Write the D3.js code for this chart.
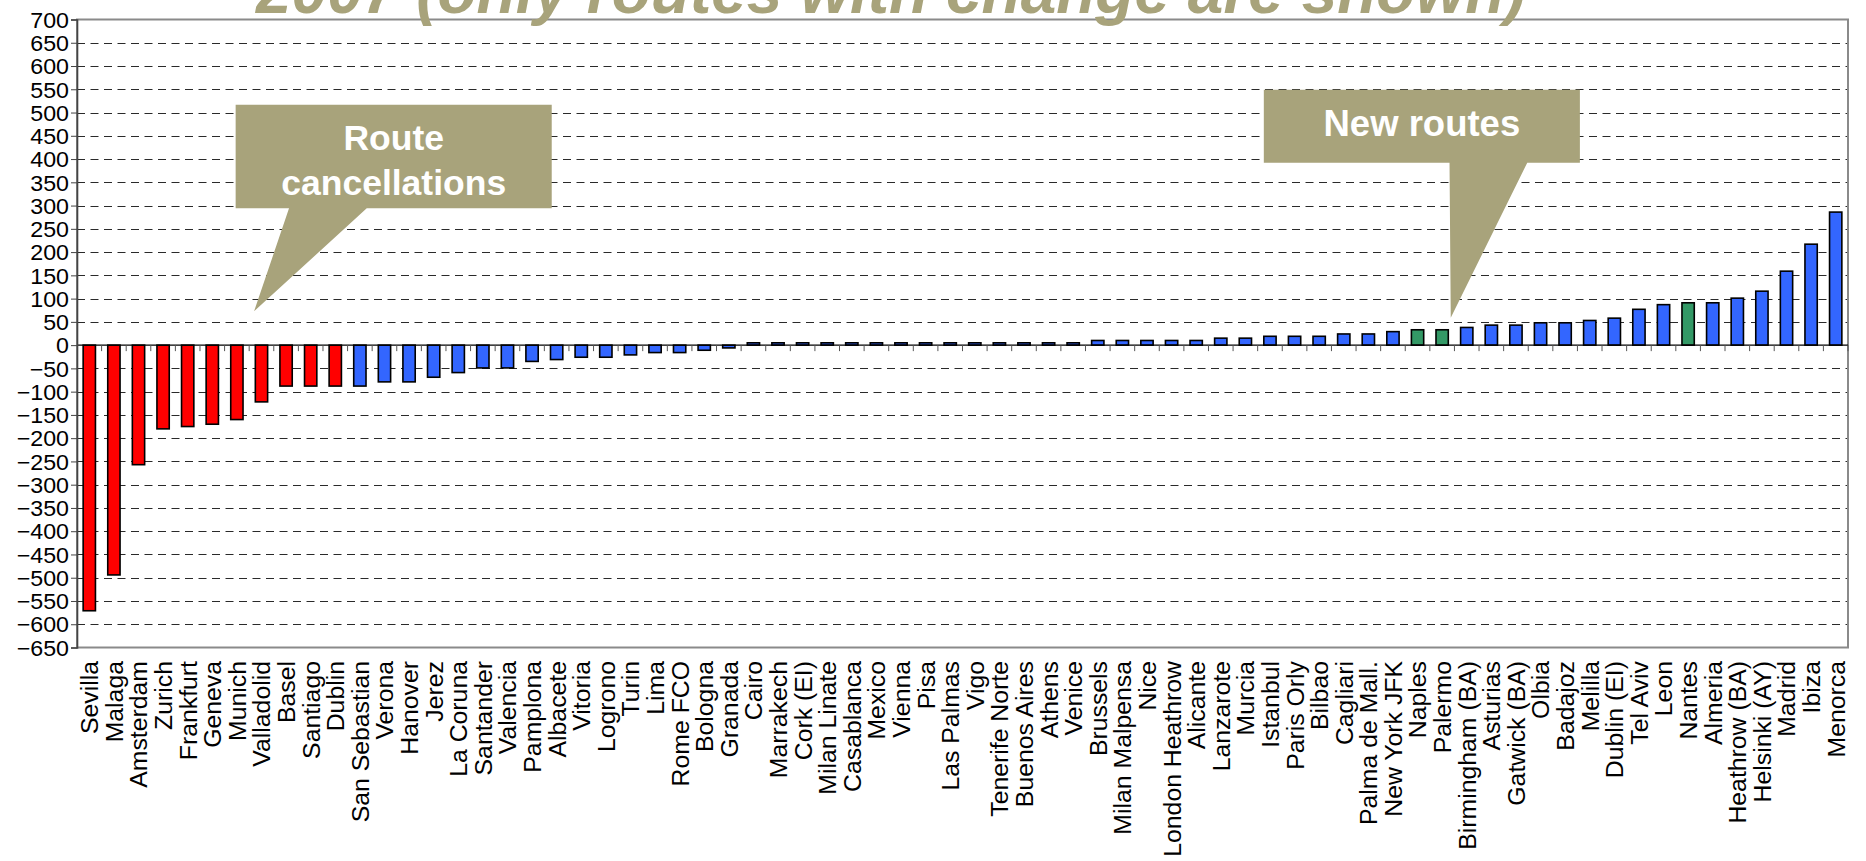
<!DOCTYPE html>
<html>
<head>
<meta charset="utf-8">
<script src="https://cdn.jsdelivr.net/npm/d3@7"></script>
<style>
  html, body { margin: 0; padding: 0; background: #ffffff; }
  svg { display: block; }
  text { font-family: "Liberation Sans", Arial, sans-serif; }
</style>
</head>
<body>
<svg id="chart" width="1866" height="861"></svg>
<script>
// ---------------- DATA ----------------
const categories = [
  "Sevilla","Malaga","Amsterdam","Zurich","Frankfurt","Geneva","Munich","Valladolid",
  "Basel","Santiago","Dublin","San Sebastian","Verona","Hanover","Jerez","La Coruna",
  "Santander","Valencia","Pamplona","Albacete","Vitoria","Logrono","Turin","Lima",
  "Rome FCO","Bologna","Granada","Cairo","Marrakech","Cork (EI)","Milan Linate","Casablanca",
  "Mexico","Vienna","Pisa","Las Palmas","Vigo","Tenerife Norte","Buenos Aires","Athens",
  "Venice","Brussels","Milan Malpensa","Nice","London Heathrow","Alicante","Lanzarote","Murcia",
  "Istanbul","Paris Orly","Bilbao","Cagliari","Palma de Mall.","New York JFK","Naples","Palermo",
  "Birmingham (BA)","Asturias","Gatwick (BA)","Olbia","Badajoz","Melilla","Dublin (EI)","Tel Aviv",
  "Leon","Nantes","Almeria","Heathrow (BA)","Helsinki (AY)","Madrid","Ibiza","Menorca"
];
const values = [
  -571,-494,-257,-180,-175,-170,-160,-122,
  -88,-88,-88,-88,-79,-79,-69,-59,
  -49,-49,-35,-31,-26,-26,-21,-16,
  -16,-11,-6,5,5,5,5,5,
  5,5,5,5,5,5,5,5,
  5,10,10,10,10,10,15,15,
  19,19,19,24,24,29,33,33,
  38,43,43,48,48,53,58,77,
  87,91,91,101,116,159,217,286
];
const cancelledRoutes = ["Sevilla","Malaga","Amsterdam","Zurich","Frankfurt","Geneva","Munich","Valladolid","Basel","Santiago","Dublin"];
const greenRoutes = ["Naples","Palermo","Nantes"];
const yTicks = d3.range(-650, 701, 50);
const titleText = "2007 (only routes with change are shown)";
const calloutLeftText = ["Route", "cancellations"];
const calloutRightText = ["New routes"];

// ---------------- LAYOUT / STYLE ----------------
const W = 1866, H = 861;
const plot = { left: 77, right: 1848, top: 19.5, bottom: 647.5 };
const colors = { cancel: "#ff0000", normal: "#3366ff", green: "#339966", olive: "#a8a37b" };

const svg = d3.select("#chart");

const x = d3.scaleBand().domain(categories).range([plot.left, plot.right])
  .paddingInner(0.5).paddingOuter(0.25);
const xi = d3.scaleLinear().domain([0, categories.length]).range([plot.left, plot.right]);
const y = d3.scaleLinear().domain([-650, 700]).range([plot.bottom, plot.top]);

const data = categories.map((c, i) => ({ cat: c, v: values[i] }));

// gridlines
svg.append("g").selectAll("line")
  .data(yTicks.filter(v => v !== 0 && v !== 700 && v !== -650))
  .join("line")
  .attr("x1", plot.left).attr("x2", plot.right)
  .attr("y1", d => Math.round(y(d)) + 0.5).attr("y2", d => Math.round(y(d)) + 0.5)
  .attr("stroke", "#2a2a2a").attr("stroke-width", 1)
  .attr("stroke-dasharray", "8,5.5");

// frame (top, right, bottom) gray
svg.append("rect")
  .attr("x", plot.left).attr("y", plot.top)
  .attr("width", plot.right - plot.left).attr("height", plot.bottom - plot.top)
  .attr("fill", "none").attr("stroke", "#8a8a8a").attr("stroke-width", 2);

// bars
svg.append("g").selectAll("rect")
  .data(data)
  .join("rect")
  .attr("x", d => x(d.cat))
  .attr("width", x.bandwidth())
  .attr("y", d => Math.min(y(d.v), y(0)))
  .attr("height", d => Math.abs(y(d.v) - y(0)))
  .attr("fill", d => cancelledRoutes.includes(d.cat) ? colors.cancel
                   : greenRoutes.includes(d.cat) ? colors.green : colors.normal)
  .attr("stroke", "#000").attr("stroke-width", 1.6);

// zero line with ticks at band boundaries
svg.append("line")
  .attr("x1", plot.left).attr("x2", plot.right)
  .attr("y1", y(0)).attr("y2", y(0))
  .attr("stroke", "#000").attr("stroke-width", 1.2);
svg.append("g").selectAll("line")
  .data(d3.range(1, categories.length + 1))
  .join("line")
  .attr("x1", i => xi(i)).attr("x2", i => xi(i))
  .attr("y1", y(0)).attr("y2", y(0) + 6)
  .attr("stroke", "#555").attr("stroke-width", 1);

// y axis
const yAxis = svg.append("g")
  .attr("transform", `translate(${plot.left},0)`)
  .call(d3.axisLeft(y).tickValues(yTicks).tickSize(6).tickFormat(d3.format("d")));
yAxis.select(".domain").attr("stroke", "#444").attr("stroke-width", 1.6);
yAxis.selectAll(".tick line").attr("stroke", "#444");
yAxis.selectAll(".tick text")
  .attr("x", null).attr("dy", "0.36em")
  .attr("text-anchor", "end")
  .attr("transform", "translate(-8,0) scale(1.08,1)")
  .attr("font-size", 21.5)
  .attr("font-family", "'Liberation Sans', Arial, sans-serif")
  .attr("fill", "#000");

// x labels (rotated)
svg.append("g").selectAll("text")
  .data(categories)
  .join("text")
  .attr("transform", d => `translate(${x(d) + x.bandwidth() / 2},661) rotate(-90)`)
  .attr("text-anchor", "end")
  .attr("dy", "0.36em")
  .attr("font-size", 24.8)
  .attr("fill", "#000")
  .text(d => d);

// callouts (positions expressed in category-index / value space)
function callout(box, tip, base, lines, fontSize, firstBaseline, lineGap) {
  const x0 = xi(box.i0), x1 = xi(box.i1), y0 = y(box.v0), y1 = y(box.v1);
  const p = [[x0, y0], [x1, y0], [x1, y1], [xi(base.i1), y1], [xi(tip.i), y(tip.v)], [xi(base.i0), y1], [x0, y1]];
  svg.append("path").attr("d", "M" + p.map(q => q.join(",")).join("L") + "Z")
    .attr("fill", colors.olive);
  const cx = (x0 + x1) / 2;
  lines.forEach((t, k) => {
    svg.append("text").attr("x", cx).attr("y", y(box.v0) + firstBaseline + k * lineGap)
      .attr("text-anchor", "middle").attr("font-weight", "bold")
      .attr("font-size", fontSize).attr("fill", "#fff").text(t);
  });
}
callout({ i0: 6.45, i1: 19.3, v0: 517, v1: 294 }, { i: 7.2, v: 73 }, { i0: 8.62, i1: 11.78 },
        calloutLeftText, 35.5, 45, 45);
callout({ i0: 48.25, i1: 61.1, v0: 549, v1: 392 }, { i: 55.85, v: 59 }, { i0: 55.8, i1: 58.96 },
        calloutRightText, 36.5, 46, 0);

// title (cut off at top, as in the reference)
svg.append("text")
  .attr("x", 256).attr("y", 13)
  .attr("font-size", 64).attr("font-weight", "bold").attr("font-style", "italic")
  .attr("fill", colors.olive)
  .text(titleText);
</script>
</body>
</html>
